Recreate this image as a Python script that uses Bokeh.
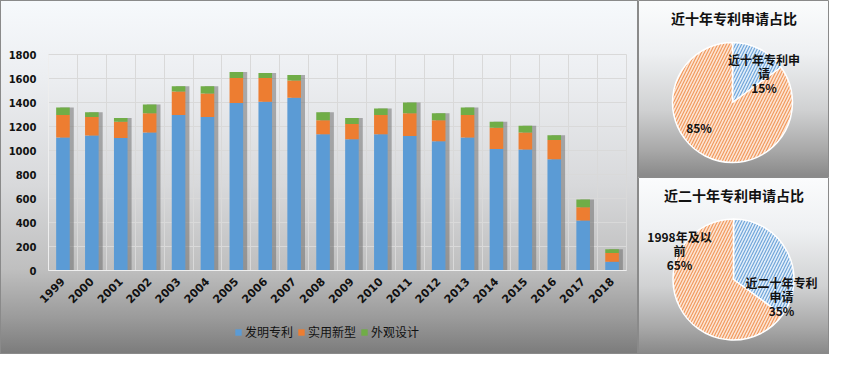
import math
from bokeh.plotting import figure
from bokeh.models import ColumnDataSource, Range1d, FixedTicker, Legend, LegendItem, Label
from bokeh.layouts import row, column
from bokeh.embed import file_html
from bokeh.resources import INLINE
from bokeh.transform import dodge

# ---------------- data ----------------
years = ["1999", "2000", "2001", "2002", "2003", "2004", "2005", "2006", "2007", "2008",
         "2009", "2010", "2011", "2012", "2013", "2014", "2015", "2016", "2017", "2018"]
invention = [1109, 1125, 1104, 1151, 1295, 1279, 1396, 1407, 1439, 1136,
             1093, 1136, 1120, 1077, 1109, 1013, 1008, 928, 417, 72]
utility = [186, 154, 135, 160, 197, 197, 208, 197, 144, 117,
           128, 159, 191, 176, 186, 176, 143, 160, 110, 74]
design = [64, 40, 32, 72, 43, 59, 50, 42, 47, 66,
          50, 56, 88, 58, 64, 50, 56, 39, 64, 31]
series_names = ["发明专利", "实用新型", "外观设计"]
series_colors = ["#5b9bd5", "#ed7d31", "#70ad47"]
y_ticks = [0, 200, 400, 600, 800, 1000, 1200, 1400, 1600, 1800]

pie1_title = "近十年专利申请占比"
pie1_values = [15, 85]
pie1_labels = [["近十年专利申", "请", "15%"], ["85%"]]

pie2_title = "近二十年专利申请占比"
pie2_values = [35, 65]
pie2_labels = [["近二十年专利", "申请", "35%"], ["1998年及以", "前", "65%"]]

pie_fill = ["#e3eef9", "#fce4d4"]
pie_hatch = ["#6fa6da", "#f19a5e"]

FONT_CJK = "Noto Sans CJK SC"

# ---------------- main bar chart ----------------
xs = list(range(1, len(years) + 1))
totals = [a + b + c for a, b, c in zip(invention, utility, design)]
src = ColumnDataSource(dict(x=xs, inv=invention, uti=utility, des=design, total=totals))

p = figure(width=638, height=310, output_backend="svg", toolbar_location=None,
           x_range=Range1d(0.5, len(years) + 0.5), y_range=Range1d(0, 1800),
           min_border_left=48, min_border_right=12, min_border_top=54, min_border_bottom=40)
p.background_fill_alpha = 0
p.border_fill_alpha = 0
p.outline_line_color = "#d9d9d9"

# bar shadows
p.vbar(x=dodge("x", 0.14, range=p.x_range), top="total", width=0.47, source=src,
       fill_color="#666666", fill_alpha=0.5, line_color=None)

bar_renderers = p.vbar_stack(["inv", "uti", "des"], x="x", width=0.47, source=src,
                             color=series_colors, line_color=None)

p.xaxis.ticker = FixedTicker(ticks=xs)
p.xaxis.major_label_overrides = {x: y for x, y in zip(xs, years)}
p.xaxis.major_label_orientation = math.pi / 4
p.yaxis.ticker = FixedTicker(ticks=y_ticks)
for ax in (p.xaxis, p.yaxis):
    ax.major_tick_line_color = None
    ax.minor_tick_line_color = None
    ax.axis_line_color = "#eeeeee"
    ax.major_label_text_font = "DejaVu Sans"
    ax.major_label_text_font_style = "bold"
    ax.major_label_text_color = "#111111"
p.yaxis.major_label_text_font_size = "10px"
p.xaxis.major_label_text_font_size = "11px"
p.yaxis.major_label_standoff = 6
p.xaxis.major_label_standoff = 3

p.xgrid.ticker = FixedTicker(ticks=[i + 0.5 for i in range(0, len(years) + 1)])
p.ygrid.ticker = FixedTicker(ticks=y_ticks)
p.grid.grid_line_color = "#d9d9d9"
p.grid.grid_line_width = 1

# legend strip (separate small figure below the chart); its proxy glyphs sit outside the view
lg = figure(width=638, height=44, output_backend="svg", toolbar_location=None,
            x_range=Range1d(0, 1), y_range=Range1d(0, 1),
            x_axis_type=None, y_axis_type=None, min_border=0)
lg.grid.visible = False
lg.background_fill_alpha = 0
lg.border_fill_alpha = 0
lg.outline_line_color = None
legend_renderers = [lg.vbar(x=[-5], top=[-5], width=0.1, color=c, line_color=None) for c in series_colors]
legend = Legend(items=[LegendItem(label=n, renderers=[r]) for n, r in zip(series_names, legend_renderers)],
                orientation="horizontal", location=(186, 14),
                background_fill_alpha=0, border_line_alpha=0,
                label_text_font=FONT_CJK, label_text_font_size="12px", label_text_color="#111111",
                glyph_width=8, glyph_height=8, spacing=4, padding=0, label_standoff=3, margin=0)
lg.add_layout(legend, "center")

main_panel = column(p, lg, spacing=0)
main_panel.styles = {
    "background": "linear-gradient(to bottom, #f6f9fc 0%, #eceef1 22%, #d8d9db 52%, #bfbfbf 76%, #9a9a9a 90%, #7b7b7b 100%)",
    "outline": "1px solid #8a8a8a",
    "outline-offset": "-1px",
}


# ---------------- pies ----------------
def make_pie(title, values, labels, cx, cy, r, label_pos):
    q = figure(width=191, height=177, output_backend="svg", toolbar_location=None,
               x_range=Range1d(0, 191), y_range=Range1d(0, 177),
               x_axis_type=None, y_axis_type=None, min_border=0)
    q.grid.visible = False
    q.background_fill_alpha = 0
    q.border_fill_alpha = 0
    q.outline_line_color = "#8a8a8a"
    q.styles = {
        "background": "linear-gradient(to bottom, #fbfcfd 0%, #eef0f2 30%, #d0d1d2 62%, #a8a8a8 85%, #888888 100%)",
    }
    tot = float(sum(values))
    starts, ends = [], []
    acc = 0.0
    for v in values:
        s = math.pi / 2 - 2 * math.pi * acc / tot
        acc += v
        e = math.pi / 2 - 2 * math.pi * acc / tot
        starts.append(s)
        ends.append(e)
    ps = ColumnDataSource(dict(start=starts, end=ends, fill=pie_fill, hatch=pie_hatch))
    q.wedge(x=cx, y=cy, radius=r, start_angle="start", end_angle="end", direction="clock",
            fill_color="fill", hatch_pattern="/", hatch_color="hatch", hatch_scale=6,
            hatch_weight=1.2, line_color="white", line_width=1.5, source=ps)
    q.add_layout(Label(x=95.5, y=160, text=title, text_font=FONT_CJK, text_font_style="bold",
                       text_font_size="14px", text_align="center", text_baseline="middle",
                       text_color="#111111"))
    for lines, (lx, ly) in zip(labels, label_pos):
        for i, t in enumerate(lines):
            q.add_layout(Label(x=lx, y=ly - i * 14, text=t, text_font=FONT_CJK,
                               text_font_style="bold", text_font_size="12px",
                               text_align="center", text_baseline="middle", text_color="#111111"))
    return q


q1 = make_pie(pie1_title, pie1_values, pie1_labels, 94, 75, 60,
              [(125.5, 118), (60.5, 50)])
q2 = make_pie(pie2_title, pie2_values, pie2_labels, 95, 75, 60.5,
              [(143, 72), (41, 118)])

layout = row(main_panel, column(q1, q2, spacing=0), spacing=0)

open("out.html", "w").write(file_html(layout, INLINE))
